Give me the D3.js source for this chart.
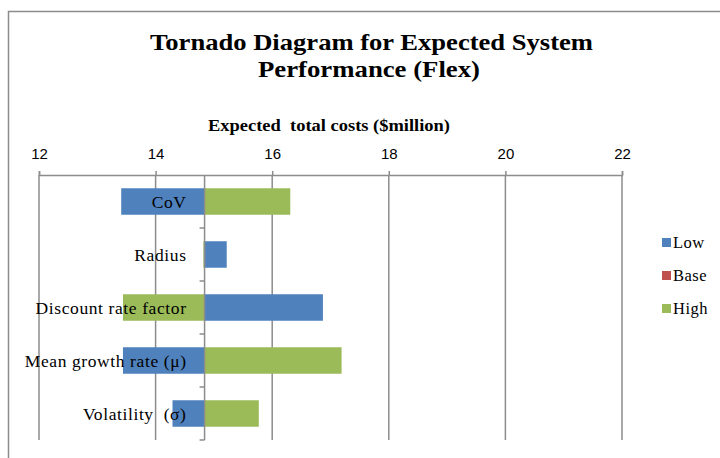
<!DOCTYPE html>
<html>
<head>
<meta charset="utf-8">
<script src="https://cdn.jsdelivr.net/npm/d3@7"></script>
<style>
  html, body { margin: 0; padding: 0; background: #fff; }
  svg { display: block; }
  text { white-space: pre; }
</style>
</head>
<body>
<script>
// Sensitivity inputs (top to bottom) and expected total costs in $million
const categories = ["CoV", "Radius", "Discount rate factor", "Mean growth rate (\u03bc)", "Volatility  (\u03c3)"];
const lowValues  = [13.41, 15.22, 16.87, 13.44, 14.29];
const baseValues = [14.84, 14.84, 14.84, 14.84, 14.84];
const highValues = [16.31, 14.82, 13.44, 17.19, 15.77];
const xTicks = [12, 14, 16, 18, 20, 22];
const seriesNames = ["Low", "Base", "High"];
const baseline = 14.84;

const W = 720, H = 458;
const colors = { Low: "#4f81bd", Base: "#c0504d", High: "#9bbb59" };
const serif = "Liberation Serif, Times New Roman, serif";

const svg = d3.select("body").append("svg")
  .attr("width", W).attr("height", H);

// chart frame
svg.append("rect")
  .attr("x", 8.5).attr("y", 11.5)
  .attr("width", W).attr("height", H)
  .attr("fill", "#fff")
  .attr("stroke", "#8c8c8c").attr("stroke-width", 1.5);

// title, stretched to the width of the heading block
const titleLines = [
  { text: "Tornado Diagram for Expected System", x: 150, y: 50, w: 443 },
  { text: "Performance (Flex)", x: 258, y: 77, w: 222 }
];
svg.append("g").selectAll("text")
  .data(titleLines)
  .join("text")
  .attr("x", d => d.x).attr("y", d => d.y)
  .attr("textLength", d => d.w)
  .attr("lengthAdjust", "spacingAndGlyphs")
  .attr("font-family", serif)
  .attr("font-weight", "bold")
  .attr("font-size", 24)
  .attr("fill", "#000")
  .text(d => d.text);

const x = d3.scaleLinear().domain([12, 22]).range([39, 622]);
const y = d3.scaleBand().domain(categories).range([175, 440]).paddingInner(0.5).paddingOuter(0.25);
const plotTop = 175, plotBottom = 440;

// axis title
svg.append("text")
  .attr("x", 208).attr("y", 131)
  .attr("textLength", 242)
  .attr("lengthAdjust", "spacingAndGlyphs")
  .attr("font-family", serif)
  .attr("font-weight", "bold")
  .attr("font-size", 16)
  .text("Expected  total costs ($million)");

// vertical gridlines
svg.append("g").selectAll("line")
  .data(xTicks)
  .join("line")
  .attr("x1", d => x(d)).attr("x2", d => x(d))
  .attr("y1", plotTop).attr("y2", plotBottom)
  .attr("stroke", "#8c8c8c").attr("stroke-width", 1.5);

// top value axis
const xAxis = d3.axisTop(x).tickValues(xTicks).tickSize(4).tickPadding(12).tickFormat(d3.format("d"));
const gx = svg.append("g").attr("transform", `translate(0,${plotTop})`).call(xAxis);
gx.select(".domain").attr("stroke", "#8c8c8c").attr("stroke-width", 1.5);
gx.selectAll(".tick line").attr("stroke", "#8c8c8c").attr("stroke-width", 1.5);
gx.selectAll(".tick text")
  .attr("font-family", "Liberation Sans, Arial, sans-serif")
  .attr("font-size", 15)
  .attr("fill", "#000");

// bars: each series drawn from the baseline to its value
const rows = categories.map((c, i) => ({ cat: c, Low: lowValues[i], Base: baseValues[i], High: highValues[i] }));
const barG = svg.append("g");
seriesNames.forEach(s => {
  barG.selectAll(null)
    .data(rows)
    .join("rect")
    .attr("x", d => Math.min(x(baseline), x(d[s])))
    .attr("width", d => Math.abs(x(d[s]) - x(baseline)))
    .attr("y", d => y(d.cat))
    .attr("height", y.bandwidth())
    .attr("fill", colors[s]);
});

// category axis at the baseline
const bandEdges = d3.range(categories.length + 1).map(i => plotTop + i * (plotBottom - plotTop) / categories.length);
svg.append("line")
  .attr("x1", x(baseline)).attr("x2", x(baseline))
  .attr("y1", plotTop).attr("y2", plotBottom)
  .attr("stroke", "#8c8c8c").attr("stroke-width", 1.5);
svg.append("g").selectAll("line")
  .data(bandEdges.slice(1))
  .join("line")
  .attr("x1", x(baseline) - 5).attr("x2", x(baseline))
  .attr("y1", d => d).attr("y2", d => d)
  .attr("stroke", "#8c8c8c").attr("stroke-width", 1.5);

// category labels
svg.append("g").selectAll("text")
  .data(categories)
  .join("text")
  .attr("x", x(baseline) - 18)
  .attr("y", d => y(d) + y.bandwidth() / 2)
  .attr("dy", "0.35em")
  .attr("text-anchor", "end")
  .attr("font-family", serif)
  .attr("font-size", 17.5)
  .attr("letter-spacing", 0.6)
  .attr("fill", "#000")
  .text(d => d);

// legend
const legend = svg.append("g").attr("transform", "translate(662,238)");
const li = legend.selectAll("g").data(seriesNames).join("g")
  .attr("transform", (d, i) => `translate(0,${i * 33})`);
li.append("rect").attr("width", 9).attr("height", 9).attr("fill", d => colors[d]);
li.append("text")
  .attr("x", 11).attr("y", 10)
  .attr("font-family", serif)
  .attr("font-size", 16.5)
  .attr("letter-spacing", 0.5)
  .attr("fill", "#000")
  .text(d => d);
</script>
</body>
</html>
